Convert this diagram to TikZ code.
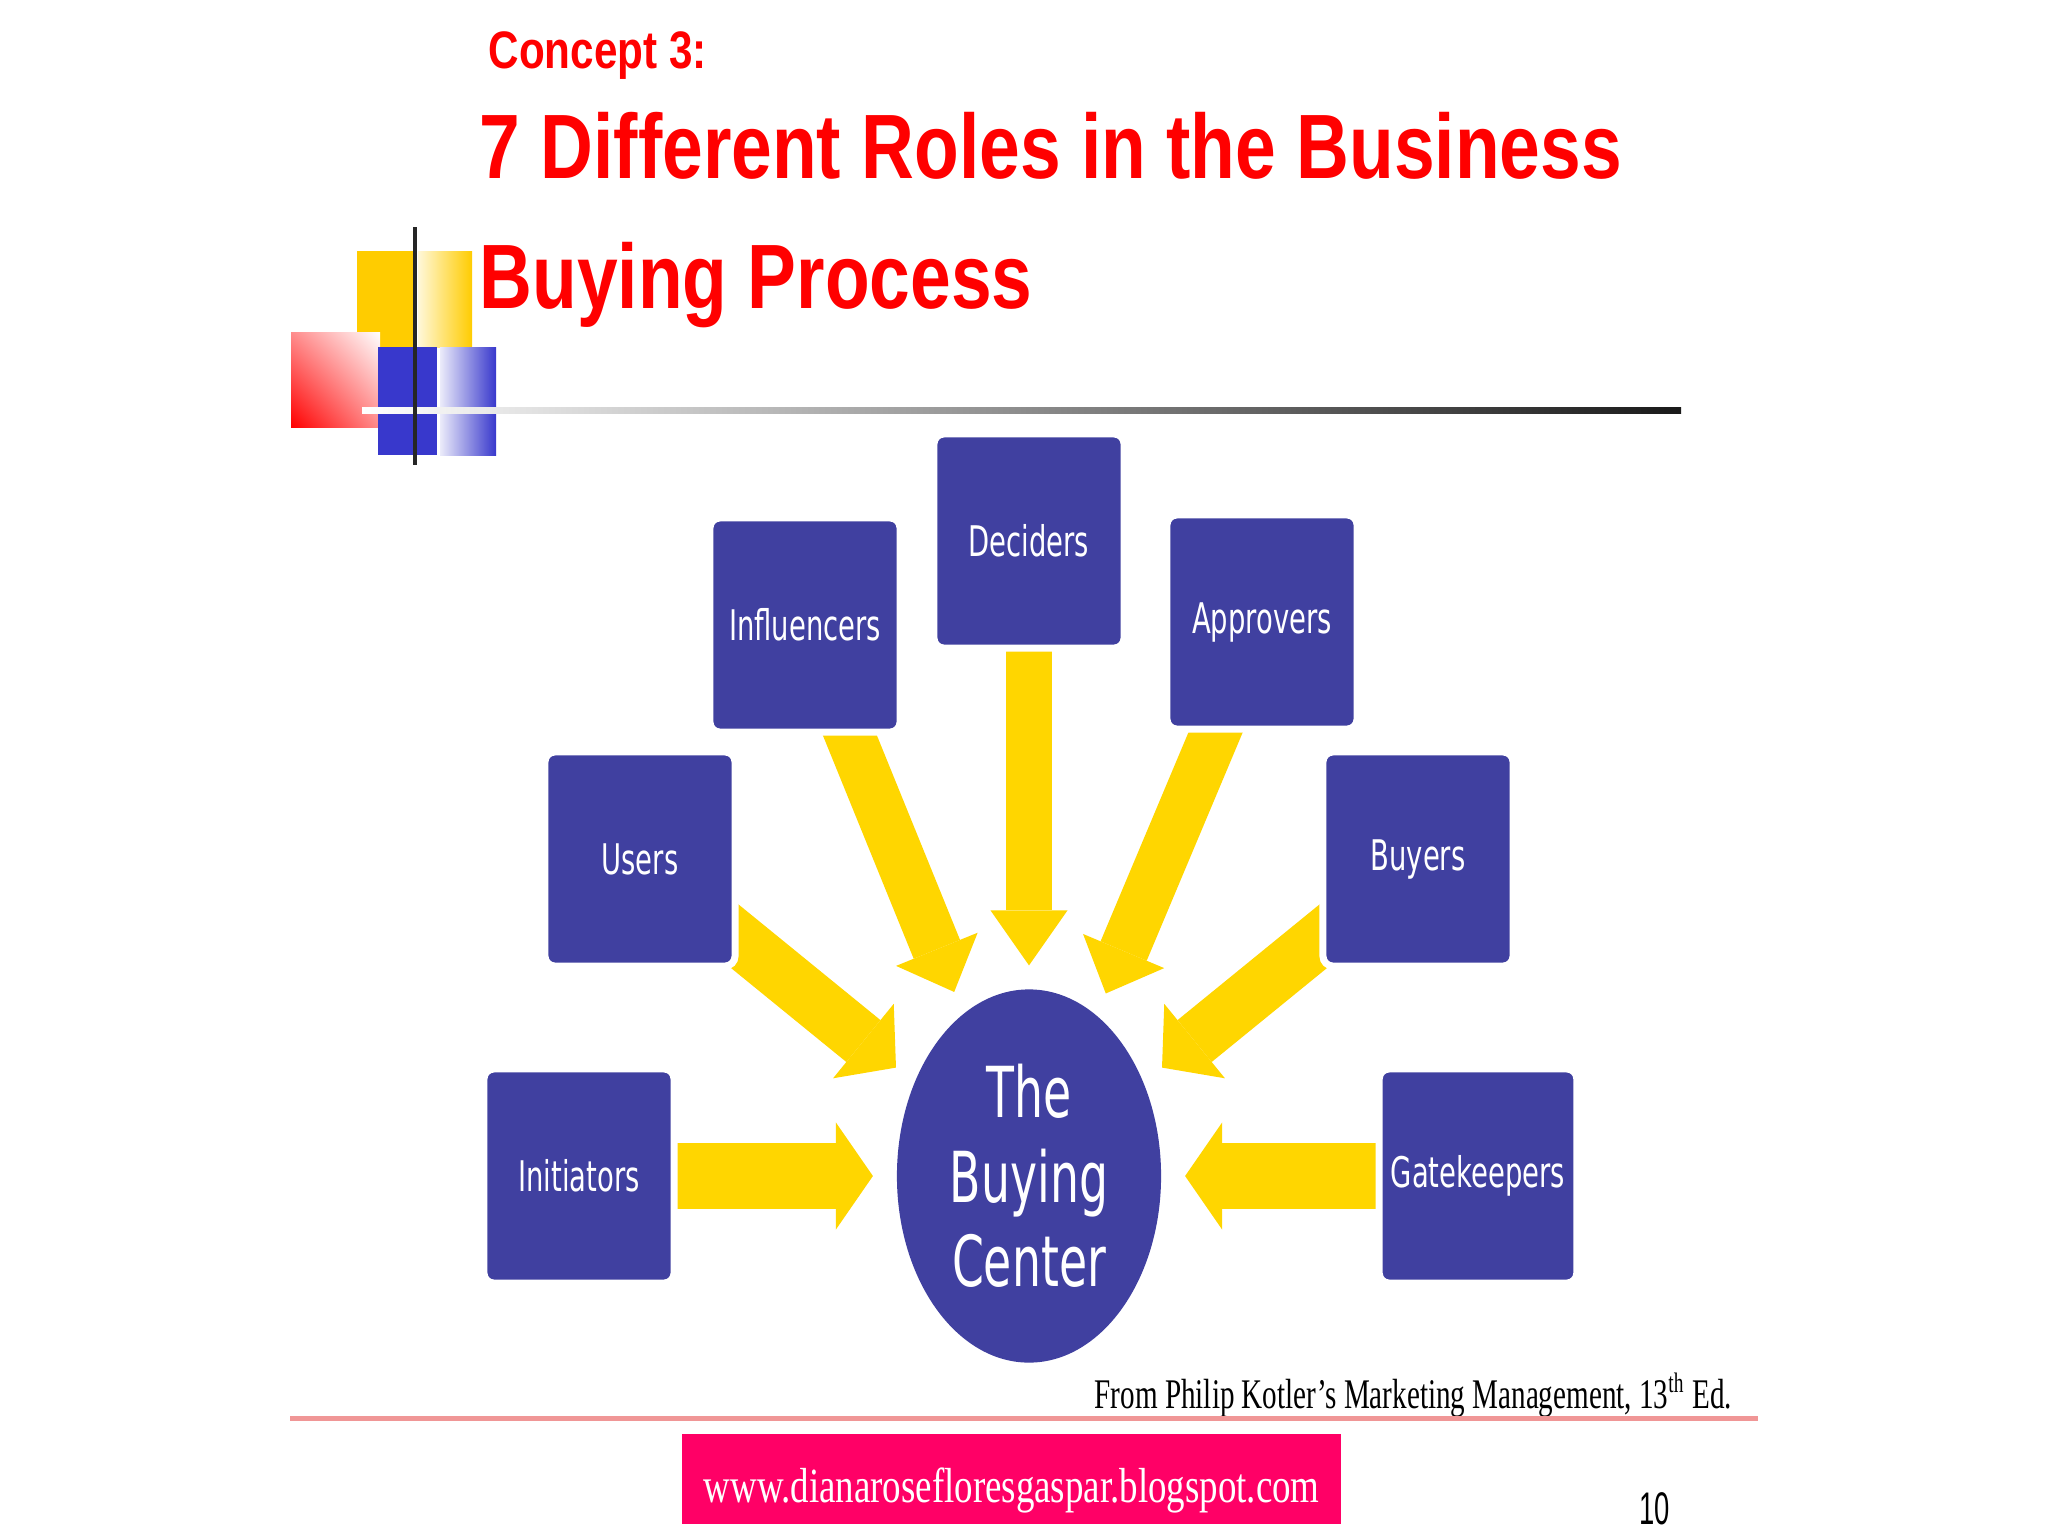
\documentclass[tikz,border=0pt]{standalone}
\usepackage{fontspec}
\usetikzlibrary{arrows.meta,shapes.geometric,backgrounds,shadings}
\newfontfamily\boxfont[FakeStretch=0.65]{DejaVu Sans}
\newfontfamily\headfont[FakeStretch=0.8]{Liberation Sans}
\newfontfamily\citefont[FakeStretch=0.69]{Liberation Serif}
\newfontfamily\urlfont[FakeStretch=0.75]{Liberation Serif}
\newfontfamily\numfont[FakeStretch=0.6]{Liberation Sans}
\definecolor{rolebg}{RGB}{64,64,160}
\definecolor{feedclr}{RGB}{255,214,0}
\definecolor{headred}{RGB}{255,0,0}
\definecolor{decoyellow}{RGB}{255,204,0}
\definecolor{decoblue}{RGB}{56,56,204}
\definecolor{urlpink}{RGB}{255,0,102}
\definecolor{rulepink}{RGB}{240,150,150}
\tikzset{
  role/.style={rectangle, rounded corners=0.1cm, fill=rolebg, draw=white, line width=0.07cm,
    minimum width=1.9cm, minimum height=2.14cm, text=white,
    font=\boxfont\fontsize{12}{14}\selectfont},
  hub/.style={ellipse, fill=rolebg, minimum width=2.64cm, minimum height=3.73cm,
    inner sep=0pt, outer sep=0pt, text=white, align=center,
    font=\boxfont\fontsize{20}{24}\selectfont},
  feed/.style n args={3}{draw=feedclr, line width=#1,
    -{Triangle[width=#2,length=#3,line width=0pt]}, shorten >=0.24cm},
  heading/.style={anchor=base west, inner sep=0pt, text=headred},
}
\begin{document}
\begin{tikzpicture}[x=0.01cm, y=-0.01cm]
  \useasboundingbox (0,0) rectangle (2048,1536);
  % corner ornament
  \fill[decoyellow] (357,251) rectangle (414,347);
  \shade[left color=decoyellow!15, right color=decoyellow] (418,251) rectangle (472,347);
  \shade[lower left=red, upper right=white, upper left=red!45!white, lower right=red!45!white] (291,332) rectangle (380,427);
  \fill[decoblue] (378,347) rectangle (437,455);
  \shade[left color=decoblue!10, right color=decoblue] (440,347) rectangle (496,455);
  \shade[left color=white, right color=black!90] (362,407) rectangle (1681,413);
  \draw[line width=0.045cm, black!85] (415,227) -- (415,465);
  % headings
  \node[heading, font=\headfont\bfseries\fontsize{15}{18}\selectfont] (concept) at (488,68) {Concept 3:};
  \node[heading, font=\headfont\bfseries\fontsize{26}{31}\selectfont] (titleA) at (479,178) {7 Different Roles in the Business};
  \node[heading, font=\headfont\bfseries\fontsize{26}{31}\selectfont] (titleB) at (479,308) {Buying Process};
  % the roles
  \node[role] (deciders) at (1029,541) {Deciders};
  \node[role] (influencers) at (805,625) {Influencers};
  \node[role] (approvers) at (1262,622) {Approvers};
  \node[role] (users) at (640,859) {Users};
  \node[role] (buyers) at (1418,859) {Buyers};
  \node[role] (initiators) at (579,1176) {Initiators};
  \node[role] (gatekeepers) at (1478,1176) {Gatekeepers};
  \node[hub] (bc) at (1029,1176) {The\\Buying\\Center};
  \begin{scope}[on background layer]
    \fill[white] (0,0) rectangle (2048,1536);
    \draw[feed={0.46cm}{0.77cm}{0.55cm}] (deciders.center) -- (bc);
    \draw[feed={0.5cm}{0.88cm}{0.46cm}] (influencers.center) -- (bc);
    \draw[feed={0.5cm}{0.88cm}{0.46cm}] (approvers.center) -- (bc);
    \draw[feed={0.54cm}{0.96cm}{0.42cm}] (users.center) -- (bc);
    \draw[feed={0.54cm}{0.96cm}{0.42cm}] (buyers.center) -- (bc);
    \draw[feed={0.66cm}{1.07cm}{0.37cm}] (initiators.center) -- (bc);
    \draw[feed={0.66cm}{1.07cm}{0.37cm}] (gatekeepers.center) -- (bc);
  \end{scope}
  % footer
  \node[anchor=base west, inner sep=0pt, font=\citefont\fontsize{12}{14}\selectfont] (source) at (1094,1408) {From Philip Kotler’s Marketing Management, 13\textsuperscript{th} Ed.};
  \draw[rulepink, line width=0.05cm] (290,1418) -- (1758,1418);
  \fill[urlpink] (682,1434) rectangle (1341,1524);
  \node[anchor=base west, inner sep=0pt, text=white, font=\urlfont\fontsize{14}{16}\selectfont] (url) at (703,1502) {www.dianarosefloresgaspar.blogspot.com};
  \node[anchor=base west, inner sep=0pt, font=\numfont\fontsize{13}{15}\selectfont] (pagenum) at (1639,1524) {10};
\end{tikzpicture}
\end{document}
